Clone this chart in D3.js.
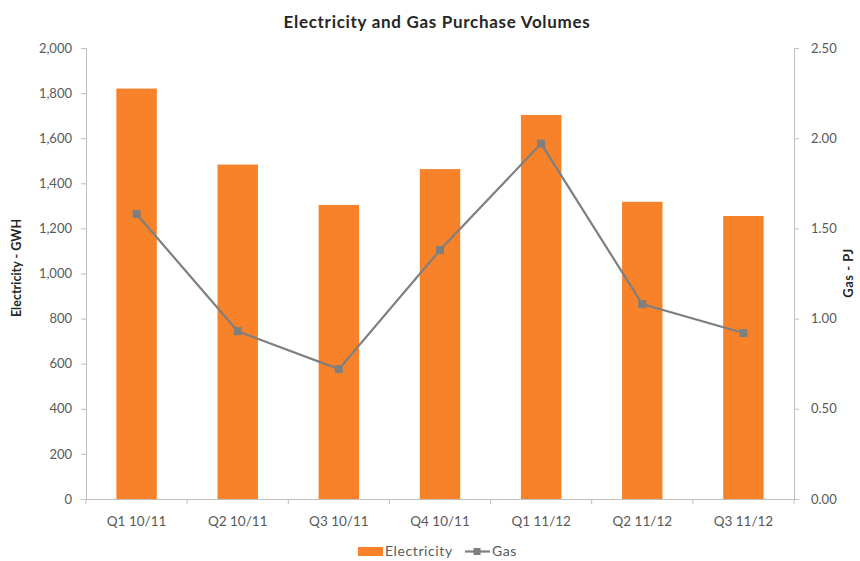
<!DOCTYPE html>
<html><head><meta charset="utf-8">
<script src="https://cdn.jsdelivr.net/npm/d3@7"></script>
<style>body{margin:0;background:#fff}svg{display:block}</style>
</head><body><svg id="c" width="860" height="561"></svg>
<script>
const categories = ["Q1 10/11","Q2 10/11","Q3 10/11","Q4 10/11","Q1 11/12","Q2 11/12","Q3 11/12"];
const electricity = [1820,1483,1304,1463,1703,1318,1255];
const gas = [1.58,0.93,0.72,1.38,1.97,1.08,0.92];
const leftTicks = [0,200,400,600,800,1000,1200,1400,1600,1800,2000];
const rightTicks = [0,0.5,1,1.5,2,2.5];

const svg = d3.select("#c");
const font = "Lato, 'Open Sans', sans-serif";
const L = 86, R = 794, T = 48, B = 499;
const axisColor = "#bfbfbf", textColor = "#595959";

const xc = d3.scaleBand().domain(categories).range([L, R]);
const yL = d3.scaleLinear().domain([0, 2000]).range([B, T]);
const yR = d3.scaleLinear().domain([0, 2.5]).range([B, T]);

// bars
svg.append("g").selectAll("rect").data(categories).join("rect")
  .attr("x", (d) => xc(d) + xc.bandwidth()*0.3)
  .attr("width", xc.bandwidth()*0.4)
  .attr("y", (d,i) => yL(electricity[i]))
  .attr("height", (d,i) => B - yL(electricity[i]))
  .attr("fill", "#F7822A");

// left axis
const gl = svg.append("g").attr("transform", `translate(${L},0)`)
  .call(d3.axisLeft(yL).tickValues(leftTicks).tickSize(5).tickPadding(9).tickFormat(d3.format(",")));
// right axis
const gr = svg.append("g").attr("transform", `translate(${R},0)`)
  .call(d3.axisRight(yR).tickValues(rightTicks).tickSize(5).tickPadding(12).tickFormat(d3.format(".2f")));
// bottom axis
const gb = svg.append("g").attr("transform", `translate(0,${B})`)
  .call(d3.axisBottom(xc).tickSize(0).tickPadding(17));
// category boundary ticks
svg.append("g").selectAll("line").data(d3.range(categories.length + 1)).join("line")
  .attr("x1", i => L + i * xc.step()).attr("x2", i => L + i * xc.step())
  .attr("y1", B).attr("y2", B + 5).attr("stroke", axisColor);

[gl, gr].forEach(g => {
  g.selectAll("path.domain").attr("stroke", axisColor);
  g.selectAll(".tick line").attr("stroke", axisColor);
  g.selectAll("text").attr("fill", textColor).attr("font-family", font).attr("font-size", 13);
});
gb.selectAll("path.domain").attr("stroke", axisColor);
gb.selectAll("text").attr("fill", textColor).attr("font-family", font).attr("font-size", 13.5);

// gas line
const lineGen = d3.line().x((d,i) => xc(categories[i]) + xc.bandwidth()/2).y(d => yR(d));
svg.append("path").datum(gas).attr("d", lineGen).attr("fill", "none")
  .attr("stroke", "#7F7F7F").attr("stroke-width", 2.2);
svg.append("g").selectAll("rect").data(gas).join("rect")
  .attr("x", (d,i) => xc(categories[i]) + xc.bandwidth()/2 - 4)
  .attr("y", d => yR(d) - 4).attr("width", 8).attr("height", 8)
  .attr("fill", "#7F7F7F");

// title
svg.append("text").attr("x", 437).attr("y", 28).attr("text-anchor", "middle")
  .attr("font-family", font).attr("font-weight", "bold").attr("font-size", 17)
  .attr("letter-spacing", 0.7)
  .attr("fill", "#262626").text("Electricity and Gas Purchase Volumes");

// axis titles
svg.append("text").attr("transform", "translate(21,268) rotate(-90)").attr("text-anchor", "middle")
  .attr("font-family", font).attr("font-weight", "bold").attr("font-size", 12.5)
  .attr("fill", "#262626").text("Electricity - GWH");
svg.append("text").attr("transform", "translate(853,273) rotate(-90)").attr("text-anchor", "middle")
  .attr("font-family", font).attr("font-weight", "bold").attr("font-size", 13)
  .attr("letter-spacing", 0.5)
  .attr("fill", "#262626").text("Gas - PJ");

// legend
const lg = svg.append("g");
lg.append("rect").attr("x", 358).attr("y", 547).attr("width", 25).attr("height", 9).attr("fill", "#F7822A");
lg.append("text").attr("x", 385).attr("y", 556).attr("font-family", font).attr("font-size", 14)
  .attr("letter-spacing", 0.6)
  .attr("fill", textColor).text("Electricity");
lg.append("line").attr("x1", 465).attr("x2", 490).attr("y1", 551.5).attr("y2", 551.5)
  .attr("stroke", "#7F7F7F").attr("stroke-width", 2.2);
lg.append("rect").attr("x", 473.5).attr("y", 548).attr("width", 7).attr("height", 7).attr("fill", "#7F7F7F");
lg.append("text").attr("x", 492).attr("y", 556).attr("font-family", font).attr("font-size", 14)
  .attr("letter-spacing", 0.6)
  .attr("fill", textColor).text("Gas");
</script></body></html>
